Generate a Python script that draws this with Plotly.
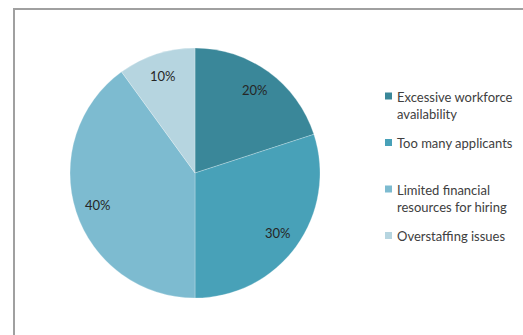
import math
import plotly.graph_objects as go

# Share of responses per reason
labels = [
    "Excessive workforce<br>availability",
    "Too many applicants",
    "Limited financial<br>resources for hiring",
    "Overstaffing issues",
]
shares = [20, 30, 40, 10]
colors = ["#3A8799", "#48A1B8", "#7DBBD0", "#B6D5E0"]

W, H = 523, 335
cx, cy, r = 195, 173, 125          # pie centre / radius in pixels (from top-left)
label_r = 102                      # ring on which the percentage labels sit
legend_x, legend_y0, legend_step = 385, 96, 46.5   # key column layout (pixels)
FONT = "Lato"


def px_x(x):
    return x / W


def px_y(y):
    return (H - y) / H


fig = go.Figure(
    go.Pie(
        labels=labels,
        values=shares,
        sort=False,
        direction="clockwise",
        rotation=0,
        marker=dict(colors=colors, line=dict(color="rgba(255,255,255,0.5)", width=0.5)),
        textinfo="none",
        domain=dict(
            x=[px_x(cx - r), px_x(cx + r)],
            y=[px_y(cy + r), px_y(cy - r)],
        ),
        hoverinfo="label+percent",
        showlegend=False,
    )
)

annotations = []
shapes = []

# Percentage labels at the middle angle of each slice
total = sum(shares)
start = 0.0
for v in shares:
    mid = (start + v / 2) / total * 2 * math.pi  # clockwise from 12 o'clock
    start += v
    annotations.append(
        dict(
            x=px_x(cx + label_r * math.sin(mid)),
            y=px_y(cy - label_r * math.cos(mid)),
            xref="paper",
            yref="paper",
            xanchor="center",
            yanchor="middle",
            text=f"{round(v / total * 100)}%",
            showarrow=False,
            font=dict(family=FONT, size=13, color="#262626"),
        )
    )

# Key: coloured square + label, one slot per category
for i, (lab, col) in enumerate(zip(labels, colors)):
    yc = legend_y0 + i * legend_step
    shapes.append(
        dict(
            type="rect",
            xref="paper",
            yref="paper",
            x0=px_x(legend_x),
            x1=px_x(legend_x + 7),
            y0=px_y(yc + 3.5),
            y1=px_y(yc - 3.5),
            line=dict(width=0),
            fillcolor=col,
        )
    )
    annotations.append(
        dict(
            x=px_x(legend_x + 10),
            y=px_y(yc - 9),
            xref="paper",
            yref="paper",
            xanchor="left",
            yanchor="top",
            align="left",
            text=lab,
            showarrow=False,
            font=dict(family=FONT, size=13, color="#404040"),
        )
    )

# Outer chart frame
shapes.append(
    dict(
        type="rect",
        xref="paper",
        yref="paper",
        x0=px_x(14),
        x1=1.05,
        y0=-0.05,
        y1=px_y(9),
        line=dict(color="#A0A0A0", width=2),
        fillcolor="rgba(0,0,0,0)",
    )
)

fig.update_layout(
    width=W,
    height=H,
    margin=dict(l=0, r=0, t=0, b=0),
    paper_bgcolor="white",
    plot_bgcolor="white",
    annotations=annotations,
    shapes=shapes,
)

fig.write_html("out.html")
